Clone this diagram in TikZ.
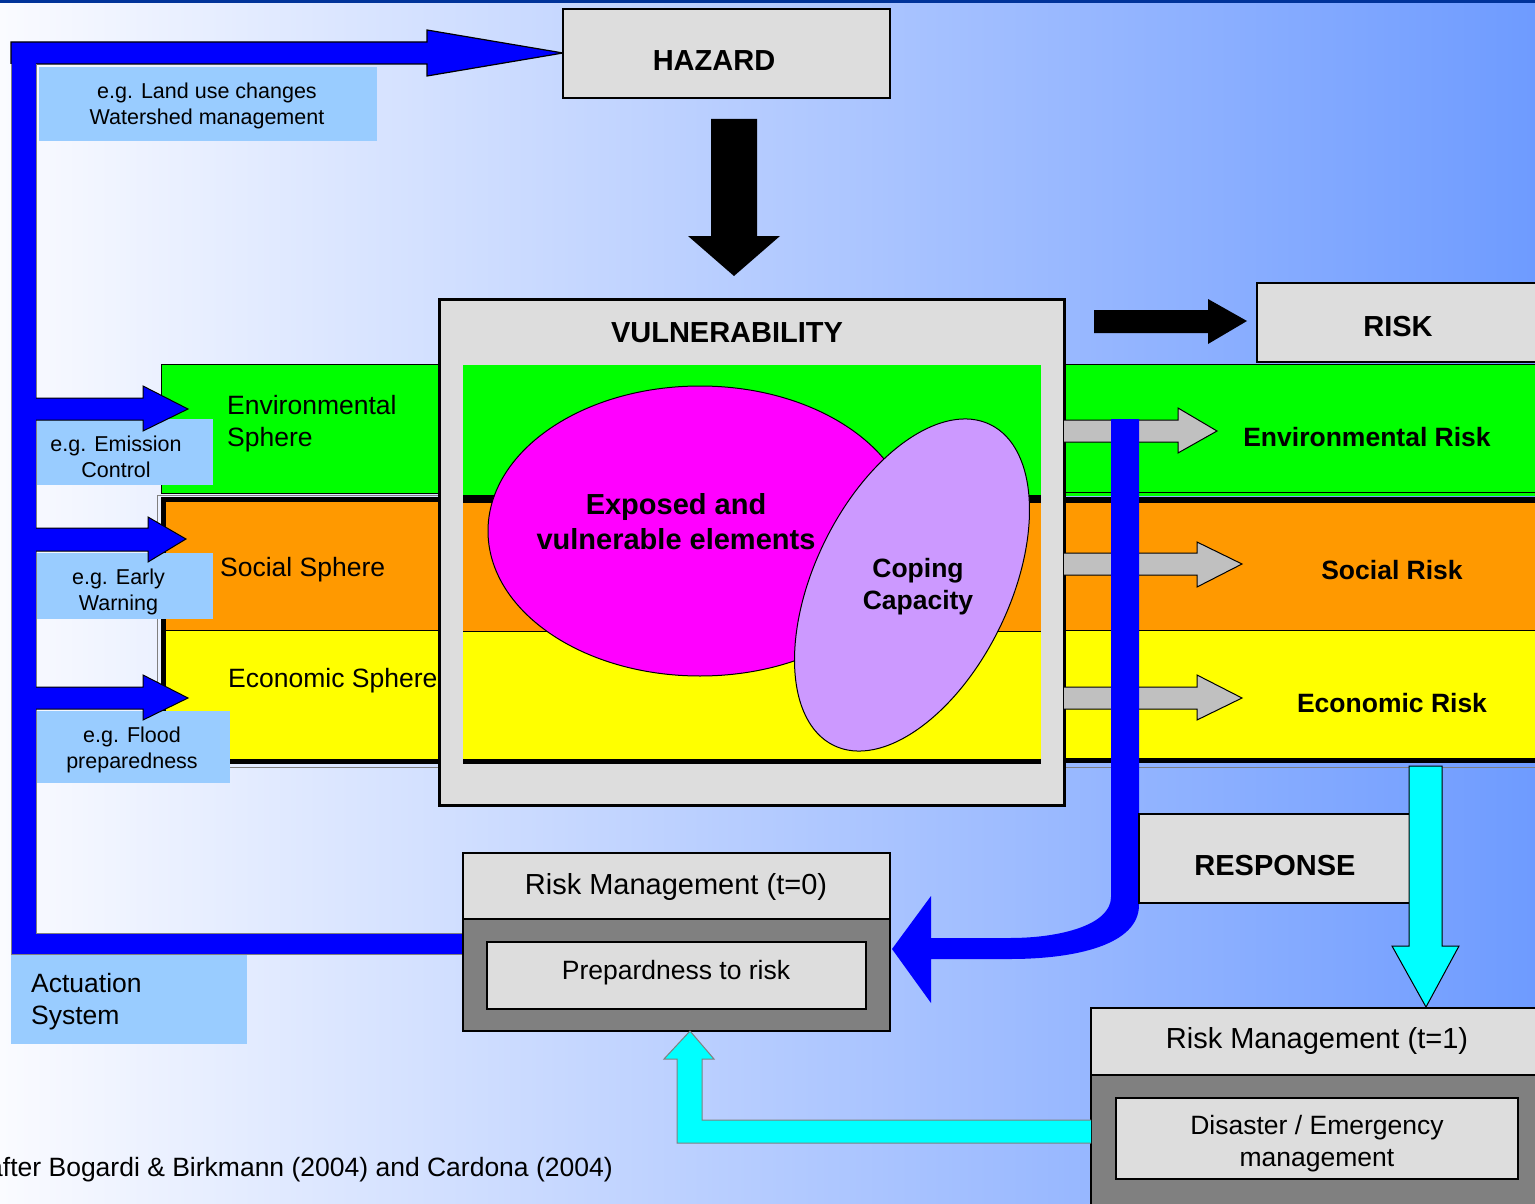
\documentclass[tikz,border=0pt]{standalone}
\usepackage{fontspec}
\setmainfont{Liberation Sans}
\usetikzlibrary{shapes.geometric}
\definecolor{bgL}{RGB}{250,251,255}
\definecolor{bgM}{RGB}{198,212,255}
\definecolor{bgR}{RGB}{110,155,255}
\definecolor{topstrip}{RGB}{0,51,153}
\definecolor{boxgray}{RGB}{221,221,221}
\definecolor{midgray}{RGB}{128,128,128}
\definecolor{lblue}{RGB}{153,204,255}
\definecolor{envgreen}{RGB}{0,255,0}
\definecolor{socorange}{RGB}{255,153,0}
\definecolor{ecoyellow}{RGB}{255,255,0}
\definecolor{expmag}{RGB}{255,0,255}
\definecolor{copepurple}{RGB}{204,153,255}
\definecolor{arrowgray}{RGB}{192,192,192}
\definecolor{bblue}{RGB}{0,0,255}
\definecolor{ccyan}{RGB}{0,255,255}
\tikzset{
  lbl/.style={font=\fontsize{21.5}{26}\selectfont, align=center, inner sep=0pt},
  txt/.style={font=\fontsize{26.5}{32}\selectfont, align=center, inner sep=0pt},
  txtb/.style={font=\bfseries\fontsize{26.5}{32}\selectfont, align=center, inner sep=0pt},
  ttl/.style={font=\bfseries\fontsize{29}{35}\selectfont, align=center, inner sep=0pt},
  ttlr/.style={font=\fontsize{29}{35}\selectfont, align=center, inner sep=0pt},
  graybox/.style={draw=black, fill=boxgray},
  blockblue/.style={fill=bblue, draw=black, line width=1pt},
  blockgray/.style={fill=arrowgray, draw=black, line width=1pt},
  blockcyan/.style={fill=ccyan, draw=black, line width=1pt},
  labelbox/.style={fill=lblue},
}
\begin{document}
\begin{tikzpicture}[x=1pt,y=-1pt]
\clip (0,0) rectangle (1535,1204);
% background
\shade[left color=bgL, middle color=bgM, right color=bgR] (0,0) rectangle (1535,1204);
\fill[topstrip] (0,0) rectangle (1535,3);

% left actuation bracket (blue)
\fill[bblue] (11,42) -- (427,42) -- (427,30) -- (563,53) -- (427,76) -- (427,64) -- (36,64) -- (36,933) -- (462,933) -- (462,954) -- (11,954) -- cycle;
\draw[black, line width=1.2pt] (11,64) -- (11,42) -- (427,42) -- (427,30) -- (563,53) -- (427,76) -- (427,64) -- (36,64);
\draw[midgray, line width=1pt] (36,64) -- (36,933) -- (462,933) (462,954) -- (11,954) -- (11,64);

% left sphere bands
\draw[black, fill=envgreen, line width=1pt] (161,364) rectangle (440,493);
\draw[midgray, line width=0.8pt] (157,495) rectangle (440,767);
\draw[black, line width=5pt, fill=socorange] (163.5,499.5) rectangle (442,761);
\fill[ecoyellow] (166,630) rectangle (440,758.5);
\draw[black, line width=1pt] (166,630) -- (440,630);

% right risk bands
\fill[envgreen] (1064,364) rectangle (1540,496);
\draw[black, line width=1pt] (1064,364) -- (1540,364) (1064,492) -- (1540,492);
\fill[black] (1064,497) rectangle (1540,503);
\fill[socorange] (1064,503) rectangle (1540,630);
\draw[black, line width=1pt] (1064,630) -- (1540,630);
\fill[ecoyellow] (1064,631) rectangle (1540,758);
\fill[black] (1064,758) rectangle (1540,763);
\draw[midgray, line width=1pt] (1064,767) -- (1540,767);

% RISK box and arrow
\draw[graybox, line width=1.5pt] (1257,283) rectangle (1545,362);
\node[ttl] (risk) at (1398,327) {RISK};
\fill[black] (1094,310) -- (1208,310) -- (1208,299) -- (1247,321) -- (1208,344) -- (1208,333) -- (1094,333) -- cycle;

% VULNERABILITY box
\draw[graybox, line width=3pt] (439,299) rectangle (1064,805);
\node[ttl] (vuln) at (727,333) {VULNERABILITY};
\fill[envgreen] (463,365) rectangle (1041,495);
\fill[black] (463,495) rectangle (1041,503);
\fill[socorange] (463,503) rectangle (1041,631);
\draw[black, line width=1pt] (463,631) -- (1041,631);
\fill[ecoyellow] (463,631.5) rectangle (1041,759);
\fill[black] (463,759) rectangle (1041,764);
\draw[black, fill=expmag, line width=1pt] (700,531) ellipse [x radius=212pt, y radius=145pt];
\draw[black, fill=copepurple, line width=1pt, rotate around={64:(912,585)}] (912,585) ellipse [x radius=178.5pt, y radius=97.5pt];
\node[ttl] (exposed) at (676,522) {Exposed and\\vulnerable elements};
\node[txtb] (coping) at (918,587) {Coping\\Capacity};

% HAZARD
\draw[graybox, line width=1.5pt] (563,9) rectangle (890,98);
\node[ttl] (hazard) at (714,61) {HAZARD};
\fill[black] (711,119) -- (757,119) -- (757,236) -- (780,236) -- (734,276) -- (688,236) -- (711,236) -- cycle;

% gray risk arrows
\draw[blockgray] (1064,420) -- (1178,420) -- (1178,408) -- (1217,431) -- (1178,453) -- (1178,442) -- (1064,442);
\draw[blockgray] (1064,553) -- (1197,553) -- (1197,542) -- (1242,564) -- (1197,587) -- (1197,575) -- (1064,575);
\draw[blockgray] (1064,687) -- (1197,687) -- (1197,675) -- (1242,698) -- (1197,720) -- (1197,709) -- (1064,709);
\node[txtb] (envrisk) at (1367,437) {Environmental Risk};
\node[txtb] (socrisk) at (1392,570) {Social Risk};
\node[txtb] (ecorisk) at (1392,703) {Economic Risk};

% blue feedback arrow
\fill[bblue] (1111,419) -- (1139,419) -- (1139,905) .. controls (1139,945) and (1075,959) .. (1010,959) -- (931,959) -- (931,1003) -- (892,949) -- (931,896) -- (931,938) -- (1010,938) .. controls (1060,938) and (1111,925) .. (1111,897) -- cycle;

% RESPONSE
\draw[graybox, line width=1.2pt] (1139,814) rectangle (1410,903);
\node[ttl] (response) at (1275,866) {RESPONSE};
\draw[blockcyan] (1409,766) -- (1442,766) -- (1442,946) -- (1459,946) -- (1426,1007) -- (1392,946) -- (1409,946) -- cycle;

% Risk Management t=0
\draw[black, fill=midgray, line width=2pt] (463,853) rectangle (890,1031);
\draw[graybox, line width=2pt] (463,853) rectangle (890,919);
\draw[graybox, line width=2pt] (487,942) rectangle (866,1009);
\node[ttlr] (rm0) at (676,887) {Risk Management (t=0)};
\node[txt] (prep) at (676,973) {Prepardness to risk};

% Risk Management t=1
\draw[black, fill=midgray, line width=2pt] (1091,1008) rectangle (1545,1215);
\draw[graybox, line width=2pt] (1091,1008) rectangle (1545,1075);
\draw[graybox, line width=2pt] (1116,1098) rectangle (1518,1179);
\node[ttlr] (rm1) at (1317,1041) {Risk Management (t=1)};
\node[txt] (disaster) at (1317,1144) {Disaster / Emergency\\management};

% cyan feedback arrow
\draw[fill=ccyan, draw=midgray, line width=1pt] (1091,1120) -- (702,1120) -- (702,1059) -- (714,1059) -- (690,1031) -- (664,1059) -- (677,1059) -- (677,1143) -- (1091,1143);

% label boxes
\fill[labelbox] (39,67) rectangle (377,141);
\fill[labelbox] (37,419) rectangle (213,485);
\fill[labelbox] (37,553) rectangle (213,619);
\fill[labelbox] (37,711) rectangle (230,783);
\fill[labelbox] (11,955) rectangle (247,1044);
\node[lbl] (landuse) at (207,106) {e.g. Land use changes\\Watershed management};
\node[lbl] (emission) at (116,457) {e.g. Emission\\Control};
\node[lbl] (early) at (118.5,592) {e.g. Early\\Warning};
\node[lbl] (flood) at (132,750) {e.g. Flood\\preparedness};
\node[txt, anchor=west, align=left] (actuation) at (31,1002) {Actuation\\System};

% blue small arrows
\draw[blockblue] (36,398) -- (143,398) -- (143,386) -- (188,409) -- (143,431) -- (143,420) -- (36,420);
\draw[blockblue] (36,528) -- (148,528) -- (148,517) -- (186,539) -- (148,562) -- (148,551) -- (36,551);
\draw[blockblue] (36,687) -- (143,687) -- (143,675) -- (188,698) -- (143,720) -- (143,709) -- (36,709);

% sphere labels
\node[txt, anchor=west, align=left] (envsph) at (227,424) {Environmental\\Sphere};
\node[txt, anchor=west] (socsph) at (220,570) {Social Sphere};
\node[txt, anchor=west] (ecosph) at (228,681) {Economic Sphere};

% citation
\node[txt, anchor=east] (cite) at (613,1170) {after Bogardi \& Birkmann (2004) and Cardona (2004)};
\end{tikzpicture}
\end{document}
